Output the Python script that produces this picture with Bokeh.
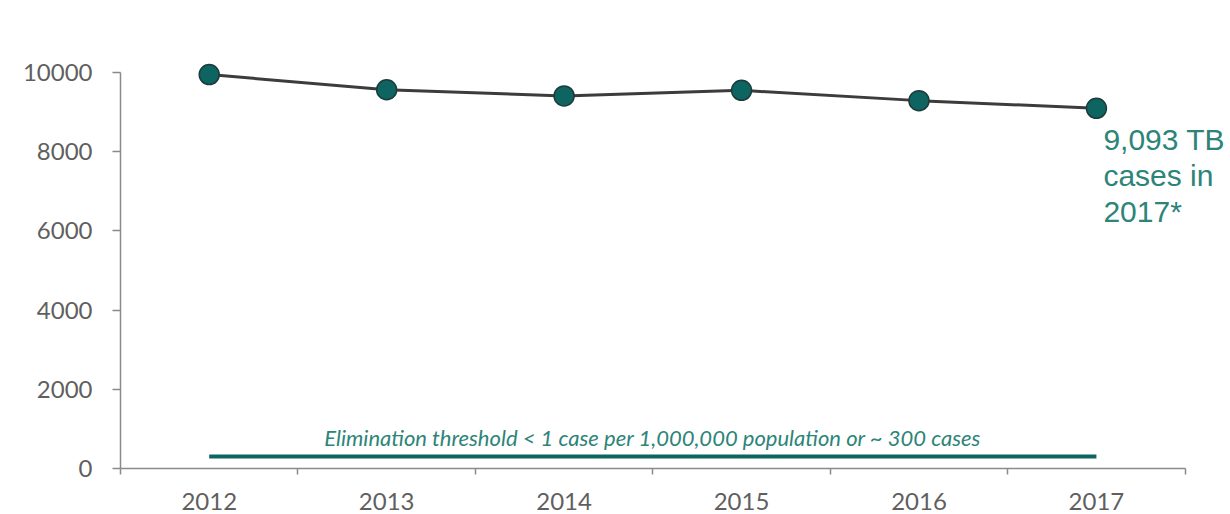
from bokeh.plotting import figure
from bokeh.models import Range1d, FixedTicker, ColumnDataSource
from bokeh.core.properties import value
from bokeh.embed import file_html
from bokeh.resources import INLINE

# Reported TB cases by year
years = [2012, 2013, 2014, 2015, 2016, 2017]
cases = [9945, 9561, 9406, 9547, 9287, 9093]
y_ticks = [0, 2000, 4000, 6000, 8000, 10000]
threshold = 300
threshold_label = "Elimination threshold < 1 case per 1,000,000 population or ~ 300 cases"

TEAL_DARK = "#0d6461"
TEAL_TEXT = "#2d8479"
GREY_TEXT = "#5f5f5f"
AXIS_GREY = "#8a8a8a"

# Extra room above the top tick and right of the last year so the
# markers and the callout are not clipped; axes stop at their bounds.
p = figure(width=1230, height=514, output_backend="svg", toolbar_location=None,
           x_range=Range1d(years[0] - 0.5, years[-1] + 0.75),
           y_range=Range1d(0, 10300),
           min_border_left=120, min_border_right=1,
           min_border_top=60, min_border_bottom=46)
p.outline_line_color = None
p.grid.visible = False
p.background_fill_color = "white"
p.border_fill_color = "white"

# y axis
p.yaxis.ticker = FixedTicker(ticks=y_ticks)
p.yaxis.bounds = (y_ticks[0], y_ticks[-1])
p.yaxis.axis_line_color = AXIS_GREY
p.yaxis.axis_line_width = 1.5
p.yaxis.major_tick_line_color = AXIS_GREY
p.yaxis.major_tick_line_width = 1.5
p.yaxis.major_tick_out = 8
p.yaxis.major_tick_in = 0
p.yaxis.minor_tick_line_color = None
p.yaxis.major_label_text_font = "Lato"
p.yaxis.major_label_text_font_size = "24px"
p.yaxis.major_label_text_color = GREY_TEXT
p.yaxis.major_label_standoff = 20

# x axis: labels at year centres, tick marks between years
boundaries = [y - 0.5 for y in years] + [years[-1] + 0.5]
p.xaxis.ticker = FixedTicker(ticks=years, minor_ticks=boundaries)
p.xaxis.bounds = (boundaries[0], boundaries[-1])
p.xaxis.axis_line_color = AXIS_GREY
p.xaxis.axis_line_width = 1.5
p.xaxis.major_tick_line_color = None
p.xaxis.minor_tick_line_color = AXIS_GREY
p.xaxis.minor_tick_line_width = 1.5
p.xaxis.minor_tick_out = 6
p.xaxis.minor_tick_in = 0
p.xaxis.major_label_text_font = "Lato"
p.xaxis.major_label_text_font_size = "24px"
p.xaxis.major_label_text_color = GREY_TEXT
p.xaxis.major_label_standoff = 18

# elimination threshold
p.line(x=[years[0], years[-1]], y=[threshold, threshold],
       line_color=TEAL_DARK, line_width=4)
p.text(x=[(years[0] + years[-1]) / 2], y=[threshold], text=[threshold_label],
       text_font=value("Lato"), text_font_style="italic",
       text_font_size="22px", text_color=TEAL_TEXT,
       text_align="center", text_baseline="bottom", y_offset=-6)

# case series
src = ColumnDataSource(dict(year=years, cases=cases))
p.line("year", "cases", source=src, line_color="#3c3c3c", line_width=3)
p.scatter("year", "cases", source=src, size=20, marker="circle",
          fill_color=TEAL_DARK, line_color="#1d3b3b", line_width=1.5)

# callout for the latest year
callout = f"{cases[-1]:,} TB\ncases in\n{years[-1]}*"
p.text(x=[years[-1]], y=[cases[-1]], text=[callout],
       text_font=value("Liberation Sans"), text_font_size="30px",
       text_color=TEAL_TEXT, text_line_height=1.08,
       text_align="left", text_baseline="top", x_offset=7, y_offset=15)

open("out.html", "w").write(file_html(p, INLINE))
